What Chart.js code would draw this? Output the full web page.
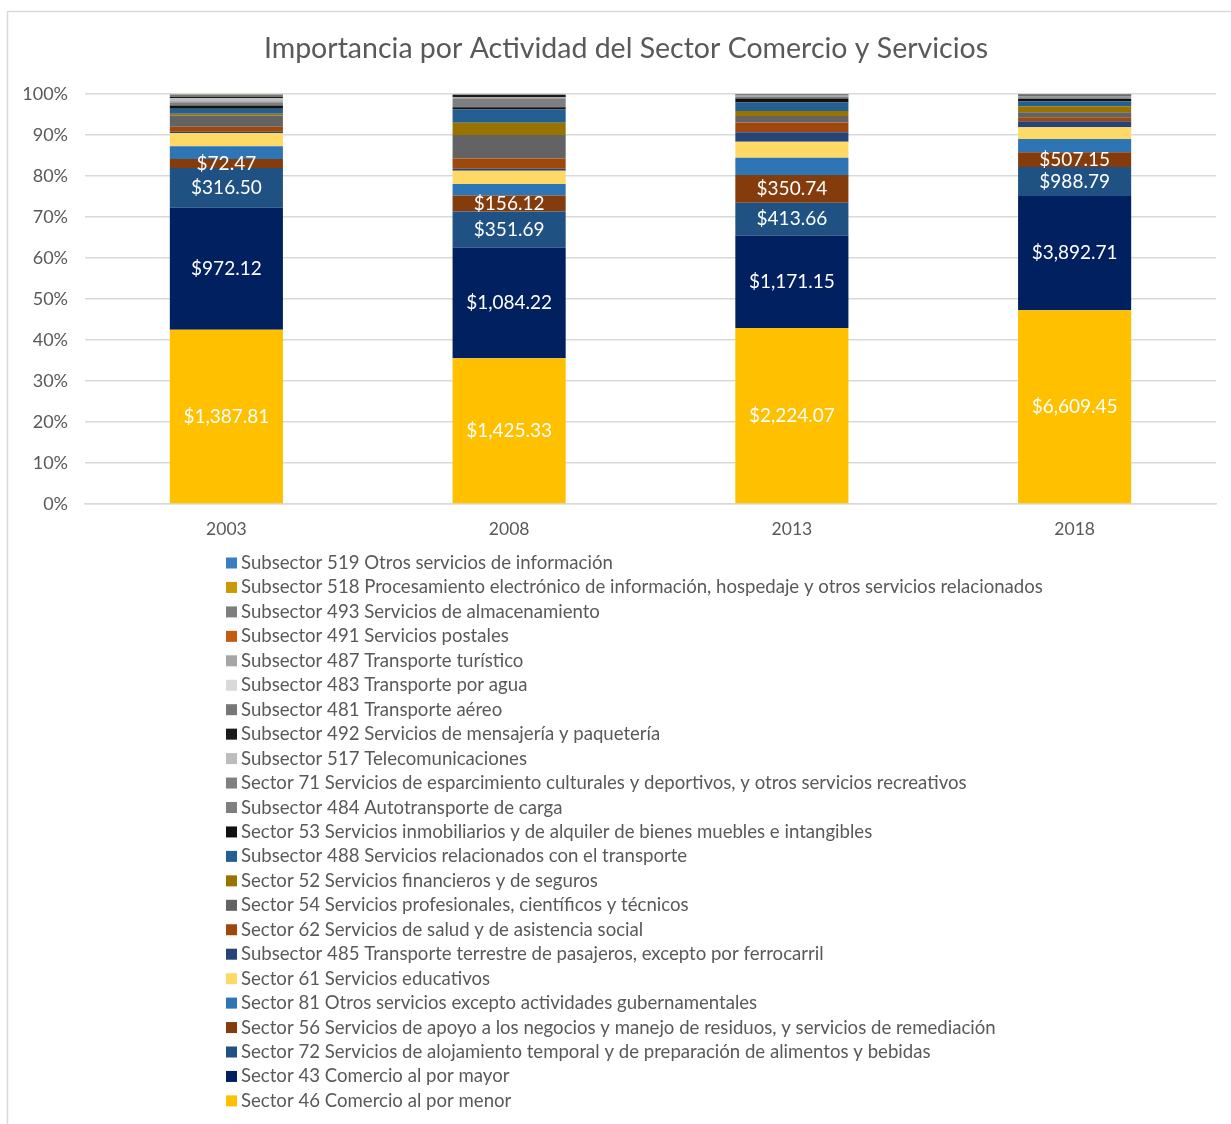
<!DOCTYPE html>
<html>
<head>
<meta charset="utf-8">
<title>Importancia por Actividad del Sector Comercio y Servicios</title>
<script src="https://cdn.jsdelivr.net/npm/chart.js@4.4.0/dist/chart.umd.min.js"></script>
<style>
  html, body { margin: 0; padding: 0; background: #fff; overflow: hidden; }
  #wrap { width: 1231px; height: 1124px; }
</style>
</head>
<body>
<div id="wrap"><canvas id="chart" width="1231" height="1124"></canvas></div>
<script>
const years = ['2003', '2008', '2013', '2018'];

// valores por actividad (stack de abajo hacia arriba)
const s46  = [1387.81, 1425.33, 2224.07, 6609.45];
const s43  = [972.12, 1084.22, 1171.15, 3892.71];
const s72  = [316.50, 351.69, 413.66, 988.79];
const s56  = [72.47, 156.12, 350.74, 507.15];
const s81  = [101, 113, 219, 454];
const s61  = [106, 130, 202, 398];
const s485 = [10, 20, 118, 204];
const s62  = [40, 100, 126, 136];
const s54  = [90, 228, 80, 170];
const s52  = [13, 120, 63, 204];
const s488 = [40, 130, 110, 170];
const s53  = [26, 23, 50, 80];
const s484 = [24, 85, 20, 60];
const s71  = [8, 10, 8, 30];
const s517 = [26, 5, 10, 25];
const s492 = [12, 18, 8, 30];
const s481 = [16, 6, 6, 15];
const s483 = [1, 1, 1, 2];
const s487 = [1, 1, 1, 3];
const s491 = [1, 1, 0.5, 2];
const s493 = [2, 1, 0.5, 2];
const s518 = [0.5, 0.5, 0.5, 1];
const s519 = [0.5, 0.5, 0.5, 1];

const seriesNames = [
  'Sector 46 Comercio al por menor',
  'Sector 43 Comercio al por mayor',
  'Sector 72 Servicios de alojamiento temporal y de preparación de alimentos y bebidas',
  'Sector 56 Servicios de apoyo a los negocios y manejo de residuos, y servicios de remediación',
  'Sector 81 Otros servicios excepto actividades gubernamentales',
  'Sector 61 Servicios educativos',
  'Subsector 485 Transporte terrestre de pasajeros, excepto por ferrocarril',
  'Sector 62 Servicios de salud y de asistencia social',
  'Sector 54 Servicios profesionales, científicos y técnicos',
  'Sector 52 Servicios financieros y de seguros',
  'Subsector 488 Servicios relacionados con el transporte',
  'Sector 53 Servicios inmobiliarios y de alquiler de bienes muebles e intangibles',
  'Subsector 484 Autotransporte de carga',
  'Sector 71 Servicios de esparcimiento culturales y deportivos, y otros servicios recreativos',
  'Subsector 517 Telecomunicaciones',
  'Subsector 492 Servicios de mensajería y paquetería',
  'Subsector 481 Transporte aéreo',
  'Subsector 483 Transporte por agua',
  'Subsector 487 Transporte turístico',
  'Subsector 491 Servicios postales',
  'Subsector 493 Servicios de almacenamiento',
  'Subsector 518 Procesamiento electrónico de información, hospedaje y otros servicios relacionados',
  'Subsector 519 Otros servicios de información'
];
const seriesValues = [s46, s43, s72, s56, s81, s61, s485, s62, s54, s52, s488, s53,
  s484, s71, s517, s492, s481, s483, s487, s491, s493, s518, s519];
const seriesColors = ['#FFC000', '#002060', '#1F5283', '#843C0C', '#2E75B6', '#FFD966',
  '#264478', '#9E480E', '#636363', '#997300', '#255E91', '#111111',
  '#7F7F7F', '#808080', '#BDBDBD', '#1A1A1A', '#777777', '#D9D9D9',
  '#A5A5A5', '#C55A11', '#7F7F7F', '#C99A06', '#3A7DC3'];
// solo las cuatro actividades principales llevan etiqueta
const labeledSeries = 4;

const yTicks = [0, 10, 20, 30, 40, 50, 60, 70, 80, 90, 100];

const FONT = 'Lato, "Open Sans", sans-serif';
const TEXT = '#595959';

const totals = years.map((y, j) => seriesValues.reduce((sum, s) => sum + s[j], 0));

function money(v) {
  return '$' + v.toLocaleString('en-US', { minimumFractionDigits: 2, maximumFractionDigits: 2 });
}

const datasets = seriesValues.map((vals, i) => ({
  label: seriesNames[i],
  data: vals.map((v, j) => v / totals[j] * 100),
  raw: vals,
  backgroundColor: seriesColors[i],
  borderWidth: 0,
  barPercentage: 1,
  categoryPercentage: 0.4,
  showValue: i < labeledSeries
}));

// marco exterior del gráfico
const framePlugin = {
  id: 'frame',
  beforeDraw(chart) {
    const ctx = chart.ctx;
    ctx.save();
    ctx.fillStyle = '#fff';
    ctx.fillRect(0, 0, chart.width, chart.height);
    ctx.strokeStyle = '#D9D9D9';
    ctx.lineWidth = 1.5;
    ctx.beginPath();
    ctx.moveTo(7.5, chart.height + 2);
    ctx.lineTo(7.5, 11.5);
    ctx.lineTo(chart.width + 2, 11.5);
    ctx.stroke();
    ctx.restore();
  }
};

const titlePlugin = {
  id: 'chartTitle',
  afterDraw(chart) {
    const ctx = chart.ctx;
    ctx.save();
    ctx.font = '28.5px ' + FONT;
    ctx.fillStyle = TEXT;
    ctx.textAlign = 'center';
    ctx.textBaseline = 'middle';
    ctx.fillText('Importancia por Actividad del Sector Comercio y Servicios', 626, 49);
    ctx.restore();
  }
};

// etiquetas con el valor en pesos dentro de cada segmento
const valueLabels = {
  id: 'valueLabels',
  afterDatasetsDraw(chart) {
    const ctx = chart.ctx;
    ctx.save();
    ctx.font = '19px ' + FONT;
    ctx.fillStyle = '#FFFFFF';
    ctx.textAlign = 'center';
    ctx.textBaseline = 'middle';
    chart.data.datasets.forEach((ds, i) => {
      if (!ds.showValue) return;
      chart.getDatasetMeta(i).data.forEach((bar, j) => {
        const p = bar.getCenterPoint();
        ctx.fillText(money(ds.raw[j]), p.x, p.y);
      });
    });
    ctx.restore();
  }
};

// leyenda en una sola columna, del tope del stack hacia abajo
const columnLegend = {
  id: 'columnLegend',
  afterDraw(chart) {
    const ctx = chart.ctx;
    const items = chart.data.datasets.slice().reverse();
    const top = chart.chartArea.bottom + 59;
    ctx.save();
    ctx.font = '18.6px ' + FONT;
    ctx.textBaseline = 'middle';
    items.forEach((ds, i) => {
      const y = top + i * 24.45;
      ctx.fillStyle = ds.backgroundColor;
      ctx.fillRect(226, y - 5.5, 11, 11);
      ctx.fillStyle = TEXT;
      ctx.fillText(ds.label, 241, y);
    });
    ctx.restore();
  }
};

new Chart(document.getElementById('chart'), {
  type: 'bar',
  data: { labels: years, datasets },
  options: {
    responsive: false,
    animation: false,
    layout: { padding: { top: 94, right: 15, left: 0, bottom: 0 } },
    plugins: {
      legend: { display: false },
      title: { display: false },
      tooltip: { enabled: false }
    },
    scales: {
      x: {
        stacked: true,
        grid: { display: false, drawTicks: false },
        border: { color: '#D9D9D9', width: 1.5 },
        ticks: { color: TEXT, font: { family: FONT, size: 17.5 }, padding: 15 },
        afterFit(s) { s.height = 620; }
      },
      y: {
        stacked: true,
        min: 0,
        max: 100,
        afterBuildTicks(s) { s.ticks = yTicks.map(v => ({ value: v })); },
        grid: { color: '#D9D9D9', lineWidth: 1.5, drawTicks: false },
        border: { display: false },
        ticks: {
          color: TEXT,
          font: { family: FONT, size: 18 },
          padding: 17,
          callback: v => v + '%'
        },
        afterFit(s) { s.width = 85; }
      }
    }
  },
  plugins: [framePlugin, titlePlugin, valueLabels, columnLegend]
});
</script>
</body>
</html>
